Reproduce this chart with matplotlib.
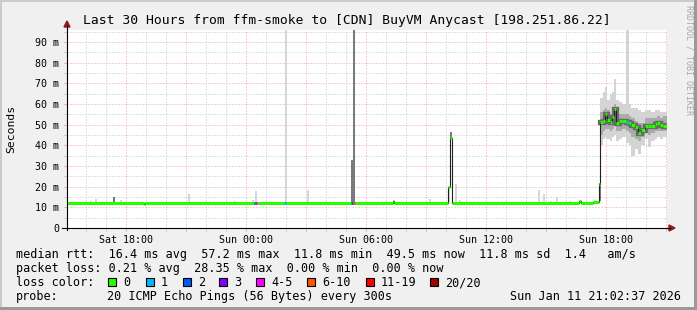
import matplotlib
matplotlib.use("Agg")
import matplotlib.pyplot as plt
import matplotlib.dates as mdates
from matplotlib.ticker import MultipleLocator, FuncFormatter
from matplotlib.lines import Line2D
from matplotlib.patches import Polygon, Rectangle
import numpy as np
import pandas as pd

W, H = 697, 310
MONO = "DejaVu Sans Mono"

t_start = pd.Timestamp("2026-01-10 15:02:37")
t_end = pd.Timestamp("2026-01-11 21:02:37")

# median rtt in ms, each value holds until the next time
median_times = ["Sat 15:02", "Sat 18:53", "Sat 18:58", "Sun 07:20", "Sun 07:25",
                "Sun 10:05", "Sun 10:11", "Sun 10:17", "Sun 16:40", "Sun 16:45",
                "Sun 17:22", "Sun 17:38",
                "Sun 17:43", "Sun 17:50", "Sun 17:57", "Sun 18:04", "Sun 18:11",
                "Sun 18:17", "Sun 18:23", "Sun 18:29", "Sun 18:39", "Sun 18:49",
                "Sun 18:59", "Sun 19:09", "Sun 19:16", "Sun 19:26", "Sun 19:36",
                "Sun 19:46", "Sun 19:56", "Sun 20:06", "Sun 20:16", "Sun 20:26",
                "Sun 20:34", "Sun 20:42", "Sun 20:51"]
median_ms = [12.3, 11.8, 12.3, 12.9, 12.3,
             20.0, 43.5, 12.3, 12.9, 12.3,
             12.8, 21.3,
             51.3, 51.6, 55.0, 52.3, 51.1,
             53.5, 57.6, 50.8, 51.6, 52.0,
             51.5, 50.8, 49.8, 48.7, 46.2,
             47.3, 49.5, 49.2, 49.5, 50.3,
             51.0, 50.0, 49.5]

# smoke of the slow period (same times as the median from 17:43)
slow_first = 12
slow_lo_out = [40, 43, 44, 43, 42, 44, 45, 42, 43, 44, 41, 40, 35, 38, 36, 40, 43, 39, 42, 43, 44, 43, 44]
slow_lo_mid = [45, 47, 48, 48, 47, 48, 50, 47, 47, 48, 47, 46, 44, 43, 42, 44, 46, 45, 46, 47, 47, 47, 47]
slow_hi_mid = [56, 57, 58, 57, 55, 58, 60, 55, 55, 55, 55, 54, 53, 52, 51, 51, 53, 53, 53, 53, 54, 53, 54]
slow_hi_out = [63, 66, 68, 62, 65, 66, 72, 62, 61, 60, 120, 60, 58, 58, 57, 56, 57, 57, 56, 57, 57, 56, 56]

# single smoke spikes (min..max of the 20 pings)
spike_times = ["Sat 16:11", "Sat 16:26", "Sat 17:20", "Sat 17:41", "Sat 21:05", "Sat 23:23",
               "Sun 00:17", "Sun 00:26", "Sun 01:57", "Sun 03:04", "Sun 05:16", "Sun 05:22",
               "Sun 09:08", "Sun 10:05", "Sun 10:11", "Sun 10:26", "Sun 10:40", "Sun 14:35",
               "Sun 14:50", "Sun 15:11", "Sun 15:29", "Sun 16:08", "Sun 17:23", "Sun 17:38"]
spike_lo = [12, 12, 12, 12, 12, 12, 12, 12, 12, 12, 12, 12,
            12, 12, 43, 12, 12, 12, 12, 12, 12, 12, 12, 13]
spike_hi = [13.0, 14.2, 14.8, 13.5, 16.6, 13.0, 13.5, 17.7, 120, 18.2, 33, 120,
            14.2, 19.0, 46.3, 21.4, 13.7, 18.5, 16.6, 13.0, 15.0, 13.0, 13.6, 22]
spike_dark = [0, 0, 1, 0, 0, 0, 0, 0, 0, 0, 1, 1,
              0, 0, 1, 0, 0, 0, 0, 0, 0, 0, 0, 1]

# 5 min steps with lost pings, index into loss_labels
loss_times = ["Sun 00:23", "Sun 00:27", "Sun 01:55", "Sun 05:16", "Sun 05:21", "Sun 19:01"]
loss_class = [2, 4, 1, 2, 5, 1]

loss_labels = ["0", "1", "2", "3", "4-5", "6-10", "11-19", "20/20"]
loss_colors = ["#26ff00", "#00b8ff", "#0059ff", "#7e00ff", "#ff00ff", "#ff5500", "#ff0000", "#a10000"]

rtt_line = "median rtt:  16.4 ms avg  57.2 ms max  11.8 ms min  49.5 ms now  11.8 ms sd  1.4   am/s"
loss_line = "packet loss: 0.21 % avg  28.35 % max  0.00 % min  0.00 % now"
probe_text = "20 ICMP Echo Pings (56 Bytes) every 300s"
stamp_text = "Sun Jan 11 21:02:37 2026"
title = "Last 30 Hours from ffm-smoke to [CDN] BuyVM Anycast [198.251.86.22]"


def when(s):
    day, hm = s.split()
    return mdates.date2num(pd.Timestamp("2026-01-%s %s" % ("10" if day == "Sat" else "11", hm)))


def fx(px):
    return px / W


def fy(py):
    return 1 - py / H


fig = plt.figure(figsize=(W / 100, H / 100), dpi=100, facecolor="#f0f0f0")
ax = fig.add_axes([fx(67), fy(228), 600 / W, 198 / H])
ax.set_facecolor("white")
for s in ax.spines.values():
    s.set_visible(False)

x0, x1 = mdates.date2num(t_start), mdates.date2num(t_end)
step = 6 / 1440.0

mt = np.array([when(s) for s in median_times] + [x1])
mv = np.array(median_ms)

# smoke
for t, lo, hi, dark in zip(spike_times, spike_lo, spike_hi, spike_dark):
    ax.bar(when(t), hi - lo, bottom=lo, width=step, align="edge",
           color="#7a7a7a" if dark else "#d6d6d6", linewidth=0, zorder=2)

st = mt[slow_first:]
sw = np.diff(st)
ax.bar(st[:-1], np.array(slow_hi_out) - np.array(slow_lo_out), bottom=slow_lo_out, width=sw,
       align="edge", color="#d4d4d4", linewidth=0, zorder=2)
ax.bar(st[:-1], np.array(slow_hi_mid) - np.array(slow_lo_mid), bottom=slow_lo_mid, width=sw,
       align="edge", color="#ababab", linewidth=0, zorder=2)
ax.step(st, np.append(mv[slow_first:], mv[-1]), where="post", color="#6a6a6a", lw=3.8,
        solid_joinstyle="miter", zorder=3)

# median line: thin dark line, then colored by loss on top
ax.step(mt, np.append(mv, mv[-1]), where="post", color="#202020", lw=0.8, zorder=4)
ax.hlines(mv, mt[:-1], mt[1:], colors=loss_colors[0], lw=2.2, zorder=5)
for t, c in zip(loss_times, loss_class):
    tn = when(t)
    y = mv[np.searchsorted(mt, tn, side="right") - 1]
    ax.hlines(y, tn, tn + 5 / 1440.0, colors=loss_colors[c], lw=2.2, zorder=6)

ax.set_xlim(x0, x1)
ax.set_ylim(0, 95.8)

ax.xaxis.set_major_locator(mdates.HourLocator(byhour=range(0, 24, 3)))
ax.xaxis.set_minor_locator(mdates.HourLocator())
ax.xaxis.set_major_formatter(FuncFormatter(
    lambda v, p: mdates.num2date(v).strftime("%a %H:%M") if mdates.num2date(v).hour % 6 == 0 else ""))
ax.yaxis.set_major_locator(MultipleLocator(10))
ax.yaxis.set_minor_locator(MultipleLocator(5))
ax.yaxis.set_major_formatter(FuncFormatter(lambda v, p: "0" if v == 0 else "%d m" % v))

ax.grid(which="major", color="#eea0a0", linestyle=(0, (1, 2)), lw=0.72, zorder=0)
ax.grid(which="minor", color="#c4c4c4", linestyle=(0, (1, 2)), lw=0.72, zorder=0)
ax.set_axisbelow(True)
ax.tick_params(which="major", axis="both", length=2.5, width=0.72, color="#eea0a0",
               labelsize=7.2, labelcolor="black")
ax.tick_params(which="minor", axis="both", length=2.5, width=0.72, color="#c4c4c4")
ax.tick_params(axis="x", pad=2.2)
ax.tick_params(axis="y", pad=3.0)
for lab in ax.get_xticklabels() + ax.get_yticklabels():
    lab.set_family(MONO)

# axes with arrows
arrow = "#8c1c1c"
fig.add_artist(Line2D([fx(67), fx(67)], [fy(230), fy(26)], color="black", lw=0.8))
fig.add_artist(Line2D([fx(62), fx(670)], [fy(228), fy(228)], color="black", lw=0.8))
fig.add_artist(Polygon([[fx(64), fy(27)], [fx(70), fy(27)], [fx(67), fy(21)]], closed=True,
                       color=arrow, transform=fig.transFigure))
fig.add_artist(Polygon([[fx(669), fy(225)], [fx(669), fy(231)], [fx(675), fy(228)]], closed=True,
                       color=arrow, transform=fig.transFigure))

# texts
fig.text(fx(346.5), fy(24), title, family=MONO, size=9.4, ha="center", va="baseline")
fig.text(fx(11), fy(129), "Seconds", family=MONO, size=8.2, rotation=90, ha="center", va="center")
fig.text(fx(688.5), fy(60), "RRDTOOL / TOBI OETIKER", family=MONO, size=6.0, rotation=270,
         ha="center", va="center", color="#a8a8a8")

leg = dict(family=MONO, size=8.5, ha="left", va="baseline")
fig.text(fx(16), fy(258), rtt_line, **leg)
fig.text(fx(16), fy(272), loss_line, **leg)
fig.text(fx(16), fy(286), "loss color:", **leg)
for x, lab, col in zip([108, 146, 183, 219, 256, 307, 366, 430], loss_labels, loss_colors):
    fig.add_artist(Rectangle((fx(x), fy(286)), 8 / W, 8 / H, facecolor=col, edgecolor="black",
                             lw=0.8, transform=fig.transFigure))
    fig.text(fx(x + 15), fy(286), lab, **leg)
fig.text(fx(16), fy(300), "probe:", **leg)
fig.text(fx(107), fy(300), probe_text, **leg)
fig.text(fx(681), fy(300), stamp_text, family=MONO, size=8.5, ha="right", va="baseline")

# 3d frame
for r, c in [((0, fy(2)), (1, 2 / H)), ((0, 0), (2 / W, 1))]:
    fig.add_artist(Rectangle(r, c[0], c[1], color="#cbcbcb", transform=fig.transFigure, lw=0))
for r, c in [((1 - 3 / W, 0), (3 / W, 1)), ((0, 0), (1, 3 / H))]:
    fig.add_artist(Rectangle(r, c[0], c[1], color="#999999", transform=fig.transFigure, lw=0))

fig.savefig("out.png", dpi=100, facecolor=fig.get_facecolor())
